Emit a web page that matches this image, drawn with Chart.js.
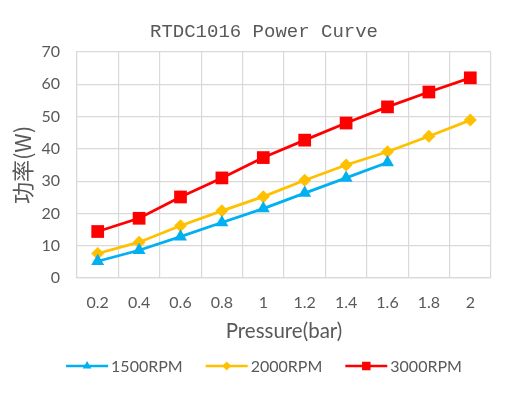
<!DOCTYPE html>
<html>
<head>
<meta charset="utf-8">
<script src="https://cdn.jsdelivr.net/npm/chart.js@4/dist/chart.umd.min.js"></script>
<style>
html,body{margin:0;padding:0;background:#fff;}
#wrap{width:528px;height:396px;}
</style>
</head>
<body>
<div id="wrap"><canvas id="c" width="528" height="396"></canvas></div>
<script>
const categories = ['0.2','0.4','0.6','0.8','1','1.2','1.4','1.6','1.8','2'];
const rpm1500 = [5.2, 8.6, 12.8, 17.2, 21.5, 26.3, 31, 35.8, null, null];
const rpm2000 = [7.6, 11.1, 16.2, 20.8, 25.2, 30.3, 35, 39.1, 43.9, 48.9];
const rpm3000 = [14.4, 18.5, 25.1, 31, 37.3, 42.7, 48, 53, 57.6, 62];
const seriesNames = ['1500RPM', '2000RPM', '3000RPM'];
const yTicks = [0, 10, 20, 30, 40, 50, 60, 70];

const textColor = '#595959';
const gridColor = '#d9d9d9';

const legendPlugin = {
  id: 'lineLegend',
  afterDraw(chart) {
    const ctx = chart.ctx;
    const y = 366;
    const lineLen = 42, gapText = 3, gapItem = 23;
    ctx.save();
    ctx.font = '16px Lato';
    const items = chart.data.datasets.map(ds => ({ds, w: ctx.measureText(ds.label).width}));
    let total = 0;
    items.forEach((it, i) => { total += lineLen + gapText + it.w + (i ? gapItem : 0); });
    let x = (chart.width - total) / 2;
    items.forEach((it, i) => {
      const ds = it.ds;
      ctx.strokeStyle = ds.borderColor;
      ctx.lineWidth = 2.5;
      ctx.beginPath();
      ctx.moveTo(x, y);
      ctx.lineTo(x + lineLen, y);
      ctx.stroke();
      ctx.fillStyle = ds.pointBackgroundColor;
      Chart.helpers.drawPoint(ctx, {pointStyle: ds.pointStyle, radius: ds.legendRadius, rotation: 0, borderWidth: 0}, x + lineLen / 2, y);
      ctx.fillStyle = textColor;
      ctx.textBaseline = 'middle';
      ctx.textAlign = 'left';
      ctx.fillText(ds.label, x + lineLen + gapText, y + 1);
      x += lineLen + gapText + it.w + gapItem;
    });
    ctx.restore();
  }
};

new Chart(document.getElementById('c'), {
  type: 'line',
  data: {
    labels: categories,
    datasets: [
      {label: seriesNames[0], data: rpm1500, borderColor: '#00B0F0', backgroundColor: '#00B0F0', pointBackgroundColor: '#00B0F0', pointBorderColor: '#00B0F0', pointStyle: 'triangle', pointRadius: 7.5, pointBorderWidth: 0, borderWidth: 2.75, legendRadius: 5},
      {label: seriesNames[1], data: rpm2000, borderColor: '#FFC000', backgroundColor: '#FFC000', pointBackgroundColor: '#FFC000', pointBorderColor: '#FFC000', pointStyle: 'rectRot', pointRadius: 6.5, pointBorderWidth: 0, borderWidth: 2.75, legendRadius: 4.5},
      {label: seriesNames[2], data: rpm3000, borderColor: '#FF0000', backgroundColor: '#FF0000', pointBackgroundColor: '#FF0000', pointBorderColor: '#FF0000', pointStyle: 'rect', pointRadius: 9, pointBorderWidth: 0, borderWidth: 2.75, legendRadius: 6}
    ]
  },
  options: {
    responsive: false,
    animation: false,
    layout: {padding: {left: 0, right: 0, top: 0, bottom: 46}},
    plugins: {
      legend: {display: false},
      tooltip: {enabled: false},
      title: {
        display: true,
        text: 'RTDC1016 Power Curve',
        color: textColor,
        font: {family: 'Liberation Mono', size: 19, weight: 'normal'},
        padding: {top: 21, bottom: 8.2}
      }
    },
    scales: {
      x: {
        offset: true,
        grid: {offset: true, color: gridColor, lineWidth: 1.2, drawTicks: false},
        border: {color: gridColor, width: 1.2},
        ticks: {color: textColor, font: {family: 'Lato', size: 16}, padding: 15, maxRotation: 0, autoSkip: false},
        title: {display: true, text: 'Pressure(bar)', color: textColor, font: {family: 'Lato', size: 20.5}, padding: {top: 0, bottom: 6}},
        afterFit(s) { s.height = 72; }
      },
      y: {
        min: yTicks[0],
        max: yTicks[yTicks.length - 1],
        afterBuildTicks(s) { s.ticks = yTicks.map(v => ({value: v})); },
        grid: {color: gridColor, lineWidth: 1.2, drawTicks: false},
        border: {color: gridColor, width: 1.2},
        ticks: {color: textColor, font: {family: 'Lato', size: 16}, padding: 17},
        title: {display: true, text: '功率(W)', color: textColor, font: {family: "'Noto Sans CJK SC', Lato", size: 22}, padding: {top: 9, bottom: 0}},
        afterFit(s) { s.width = 77; }
      },
      yRightSpace: {
        position: 'right',
        display: true,
        min: 0,
        max: 70,
        grid: {display: false, drawTicks: false},
        border: {display: false},
        ticks: {display: false},
        afterFit(s) { s.width = 37; }
      }
    }
  },
  plugins: [legendPlugin]
});
</script>
</body>
</html>
